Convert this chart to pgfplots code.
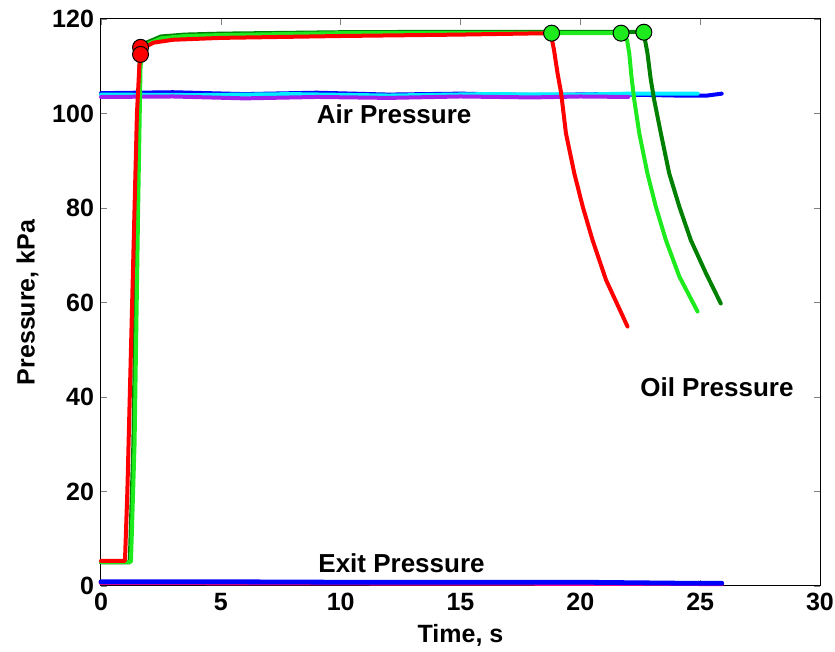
\documentclass[border=0pt]{standalone}
\usepackage{fontspec}
\setmainfont{Liberation Sans}
\usepackage{pgfplots}
\pgfplotsset{compat=1.18}

\definecolor{oilred}{RGB}{255,0,0}
\definecolor{oillime}{RGB}{30,235,30}
\definecolor{oildark}{RGB}{0,128,0}
\definecolor{airblue}{RGB}{0,0,255}
\definecolor{aircyan}{RGB}{0,240,255}
\definecolor{airpurple}{RGB}{160,32,240}

\begin{document}
\begin{tikzpicture}
\begin{axis}[
  name=ax, scale only axis, width=359.5pt, height=283.5pt,
  xmin=0, xmax=30, ymin=0, ymax=120,
  xtick={0,5,...,30}, ytick={0,20,...,120},
  tick align=inside, major tick length=3pt,
  axis line style={black, line width=0.5pt},
  /pgf/number format/assume math mode=true,
  ticklabel style={font=\fontsize{12.5}{14}\selectfont\bfseries},
  label style={font=\fontsize{12.5}{14}\selectfont\bfseries},
  xlabel={Time, s}, ylabel={Pressure, kPa},
  every axis plot/.append style={line join=round, line cap=round},
  clip=false]
% air pressure
\addplot[airblue, line width=2pt] coordinates {(0,104.3) (3,104.5) (6,104.1) (9,104.4) (12,104.0) (15,104.2) (18,103.9) (21,104.1) (24,103.8) (25.3,103.8) (25.9,104.2)};
\addplot[aircyan, line width=2pt] coordinates {(0,104.0) (4,103.9) (8,104.1) (12,103.8) (16,104.1) (20,104.0) (22,104.2) (24.9,104.2)};
\addplot[airpurple, line width=2pt] coordinates {(0,103.5) (3,103.6) (6,103.2) (9,103.5) (12,103.3) (15,103.6) (18,103.4) (20,103.6) (22,103.5)};
% exit pressure
\addplot[magenta, line width=2.4pt] coordinates {(0,0.7) (25.9,0.5)};
\addplot[airblue, line width=2.4pt] coordinates {(0,0.9) (5,0.9) (10,0.8) (15,0.8) (20,0.8) (24,0.6) (25.9,0.6)};
% oil pressure
\addplot[oildark, line width=2pt] coordinates {(0,5) (1.2,5) (1.35,30) (1.5,80) (1.6,110) (1.7,113.5) (1.9,115) (2.5,116.3) (3.5,116.7) (5,116.9) (10,117.2) (15,117.3) (22.6,117.3) (22.7,115.5) (22.8,112.8) (22.93,107.5) (23.08,102.9) (23.36,95.8) (23.71,87.3) (24.13,80.3) (24.61,73.2) (25.24,66.2) (25.86,59.8)};
\addplot[oillime, line width=2pt] coordinates {(0,5.1) (1.25,5.1) (1.4,30) (1.55,80) (1.65,110) (1.75,113.2) (1.9,114.6) (2.5,115.9) (3.5,116.4) (5,116.6) (10,117) (15,117) (21.8,117) (21.95,115.5) (22.04,112.8) (22.14,107.5) (22.25,102.9) (22.46,95.8) (22.8,87.3) (23.15,80.3) (23.57,73.2) (24.13,65.5) (24.89,58.1)};
\addplot[oilred, line width=2pt] coordinates {(0,5.3) (1.0,5.3) (1.1,20) (1.3,60) (1.5,100) (1.6,110) (1.65,112.5) (1.8,114) (2.2,115) (3,115.6) (5,116) (10,116.4) (15,116.7) (18.7,117) (18.8,116) (18.9,113.5) (19.05,108.5) (19.2,104.3) (19.4,95.8) (19.75,87.3) (20.1,80.3) (20.51,73.2) (21.07,64.8) (21.97,54.9)};
% markers
\addplot[only marks, mark=*, mark size=4pt, mark options={fill=oillime, draw=black, line width=0.5pt}] coordinates {(18.8,117) (21.7,117) (22.65,117.2)};
\addplot[only marks, mark=*, mark size=4pt, mark options={fill=oilred, draw=black, line width=0.5pt}] coordinates {(1.65,114) (1.65,112.5)};
% annotations
\node[font=\fontsize{13}{15}\selectfont\bfseries] at (axis cs:12.23,99.9) {Air Pressure};
\node[font=\fontsize{13}{15}\selectfont\bfseries] at (axis cs:25.7,42.1) {Oil Pressure};
\node[font=\fontsize{13}{15}\selectfont\bfseries] at (axis cs:12.54,4.9) {Exit Pressure};
\end{axis}
\pgfresetboundingbox
\path ([shift={(-50.5pt,-33pt)}]ax.south west) rectangle ([shift={(7.5pt,9.5pt)}]ax.north east);
\end{tikzpicture}
\end{document}
